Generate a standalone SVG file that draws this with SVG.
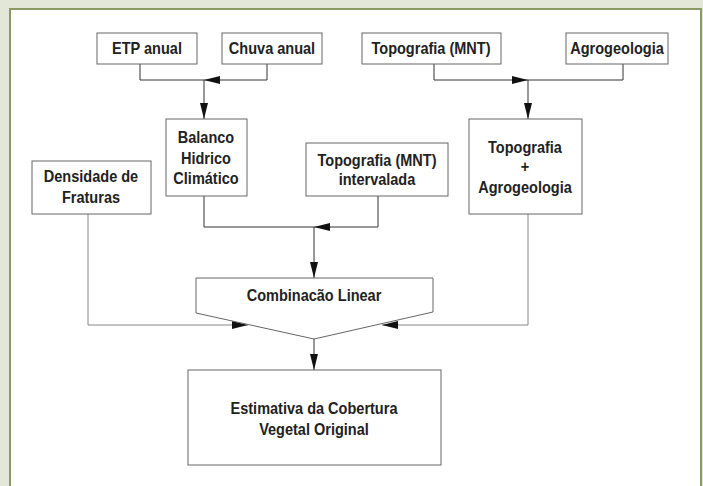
<svg xmlns="http://www.w3.org/2000/svg" width="703" height="486" viewBox="0 0 703 486">
<style>
.bx{fill:#fff;stroke:#666;stroke-width:1}
.t{font-family:"Liberation Sans",Arial,sans-serif;font-weight:bold;font-size:16.5px;fill:#222;text-anchor:middle}
.c{fill:none;stroke:#333;stroke-width:1}
.cg{fill:none;stroke:#888;stroke-width:1}
</style>
<defs>
<marker id="ah" markerWidth="16" markerHeight="8" refX="16" refY="4" orient="auto" markerUnits="userSpaceOnUse">
<path d="M0,0 L16,4 L0,8 Z" fill="#111"/>
</marker>
</defs>
<rect x="0" y="0" width="703" height="486" fill="#e2e7d8"/>
<rect x="10" y="9" width="691" height="490" fill="#fff" stroke="#8a9a62" stroke-width="2"/>
<g id="connectors">
<path class="c" d="M140,64 V80 H204"/>
<path class="c" d="M267,64 V80 H204" marker-end="url(#ah)"/>
<path class="c" d="M204,80 V119" marker-end="url(#ah)"/>
<path class="c" d="M434,64 V80 H528" marker-end="url(#ah)"/>
<path class="c" d="M623,64 V80 H528"/>
<path class="c" d="M528,80 V119" marker-end="url(#ah)"/>
<path class="c" d="M204,196 V227 H314"/>
<path class="c" d="M378,196 V227 H314" marker-end="url(#ah)"/>
<path class="c" d="M314,227 V278" marker-end="url(#ah)"/>
<path class="cg" d="M88,214 V325 H248" marker-end="url(#ah)"/>
<path class="cg" d="M528,214 V325 H382" marker-end="url(#ah)"/>
<path class="c" d="M314,339 V370" marker-end="url(#ah)"/>
</g>
<g id="etp"><rect class="bx" x="97" y="33" width="100" height="31"/><text class="t" transform="scale(0.88 1)" x="167.05" y="54">ETP anual</text></g>
<g id="chuva"><rect class="bx" x="222" y="33" width="100" height="31"/><text class="t" transform="scale(0.88 1)" x="309.09" y="54">Chuva anual</text></g>
<g id="topo"><rect class="bx" x="362" y="33" width="139" height="31"/><text class="t" transform="scale(0.88 1)" x="489.77" y="54">Topografia (MNT)</text></g>
<g id="agro"><rect class="bx" x="566" y="33" width="102" height="31"/><text class="t" transform="scale(0.88 1)" x="701.14" y="54">Agrogeologia</text></g>
<g id="balanco"><rect class="bx" x="166" y="119" width="81" height="77"/><text class="t" transform="scale(0.88 1)" x="234.09" y="143">Balanco</text><text class="t" transform="scale(0.88 1)" x="234.09" y="164">Hidrico</text><text class="t" transform="scale(0.88 1)" x="234.09" y="184">Climático</text></g>
<g id="densidade"><rect class="bx" x="32" y="161" width="119" height="53"/><text class="t" transform="scale(0.88 1)" x="103.41" y="182">Densidade de</text><text class="t" transform="scale(0.88 1)" x="103.41" y="203">Fraturas</text></g>
<g id="topoint"><rect class="bx" x="306" y="143" width="142" height="53"/><text class="t" transform="scale(0.88 1)" x="428.41" y="166">Topografia (MNT)</text><text class="t" transform="scale(0.88 1)" x="428.41" y="185">intervalada</text></g>
<g id="topoagro"><rect class="bx" x="469" y="119" width="113" height="95"/><text class="t" transform="scale(0.88 1)" x="596.59" y="153">Topografia</text><text class="t" transform="scale(0.88 1)" x="596.59" y="172">+</text><text class="t" transform="scale(0.88 1)" x="596.59" y="193">Agrogeologia</text></g>
<g id="combinacao"><polygon class="bx" points="196,278 433,278 433,312 314,339 196,313"/><text class="t" transform="scale(0.88 1)" x="356.82" y="301">Combinacão Linear</text></g>
<g id="estimativa"><rect class="bx" x="188" y="370" width="253" height="95"/><text class="t" transform="scale(0.88 1)" x="356.82" y="414">Estimativa da Cobertura</text><text class="t" transform="scale(0.88 1)" x="356.82" y="435">Vegetal Original</text></g>
</svg>
